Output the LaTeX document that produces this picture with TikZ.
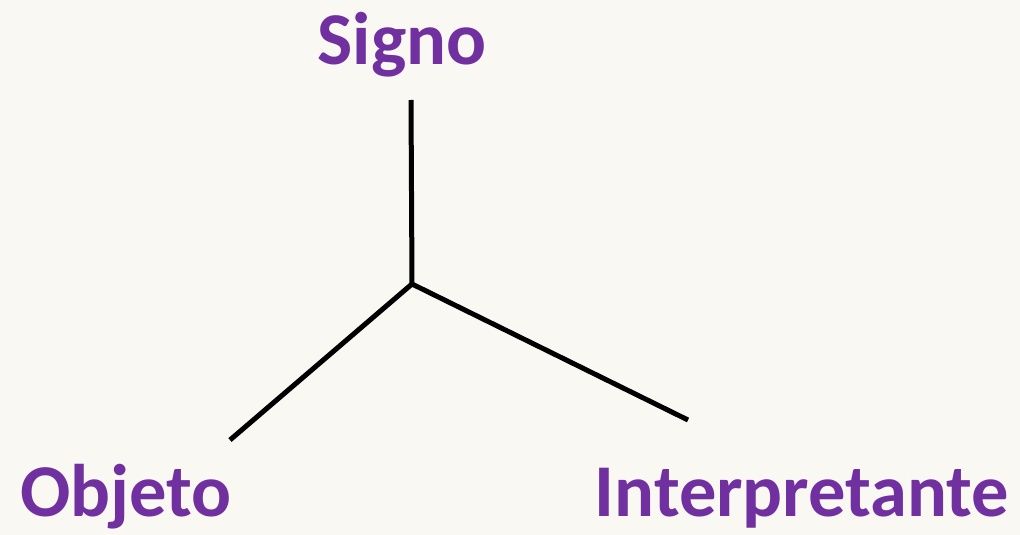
\documentclass[tikz,border=0pt]{standalone}
\usepackage{fontspec}
\setmainfont{Carlito}
\definecolor{bg}{HTML}{F9F8F3}
\definecolor{lbl}{HTML}{7030A0}
\begin{document}
\begin{tikzpicture}[x=1pt,y=-1pt,
  lab/.style={text=lbl,font=\fontsize{74.5}{82}\selectfont\bfseries,inner sep=0pt,anchor=base},
  arm/.style={line width=5pt,draw=black,line cap=butt,line join=miter}]
\fill[bg] (0,0) rectangle (1020,535);
\useasboundingbox (0,0) rectangle (1020,535);
\node[lab] (signo) at (402,64) {Signo};
\node[lab] (objeto) at (126,516) {Objeto};
\node[lab] (interp) at (802,516) {Interpretante};
\coordinate (J) at (412,284);
\coordinate (S1) at (411,100);
\coordinate (O1) at (230,440);
\coordinate (I1) at (688,420);
\draw[arm] (S1) -- (J) -- (I1);
\draw[arm] (J) -- (O1);
\end{tikzpicture}
\end{document}
